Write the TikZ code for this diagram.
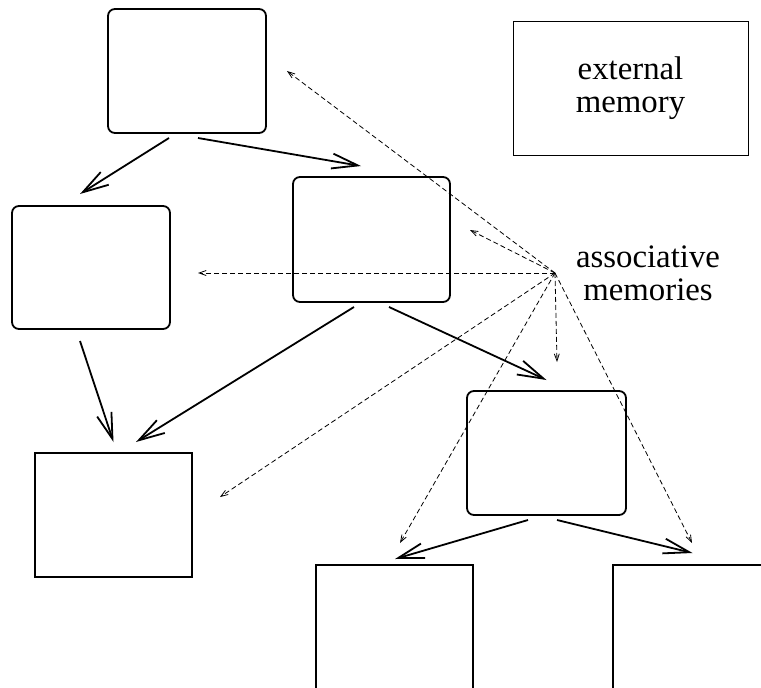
\documentclass[tikz,border=0pt]{standalone}
\usepackage{fontspec}
\setmainfont{Liberation Serif}
\newfontfamily\labelfont{Liberation Serif}
\usetikzlibrary{arrows.meta,calc}
\begin{document}
\begin{tikzpicture}[x=1pt,y=-1pt,
  memrounded/.style={draw,line width=1.8pt,rounded corners=7pt,inner sep=0pt,outer sep=0pt},
  memsquare/.style={draw,line width=1.8pt,inner sep=0pt,outer sep=0pt},
  flow/.style={line width=1.8pt,-{Straight Barb[length=26pt,width=15pt]}},
  assoc/.style={line width=0.8pt,dash pattern=on 5pt off 3pt,-{Straight Barb[length=7pt,width=5pt]}},
  labeltext/.style={font=\labelfont\fontsize{32.8}{33}\selectfont,align=center,inner sep=0pt}]
\useasboundingbox (0,0) rectangle (761,688);

% memory blocks
\node[memrounded,minimum width=158pt,minimum height=124pt] (top) at (187,71) {};
\node[memrounded,minimum width=158pt,minimum height=123pt] (lft) at (91,267.5) {};
\node[memrounded,minimum width=157pt,minimum height=125pt] (mid) at (371.5,239.5) {};
\node[memrounded,minimum width=159pt,minimum height=124pt] (rgt) at (546.5,453) {};
\node[memsquare,minimum width=157pt,minimum height=124pt] (bl) at (113.5,515) {};
\node[memsquare,minimum width=157pt,minimum height=124pt] (bm) at (394.5,627) {};
\node[memsquare,minimum width=157pt,minimum height=124pt] (br) at (691.5,627) {};

% external memory
\node[draw,line width=1pt,minimum width=235pt,minimum height=134pt,labeltext] (ext) at (630.5,88) {external\\memory};

% associative memories hub
\coordinate (hub) at (555,273);
\node[labeltext,anchor=base] (assoclbl) at (648,300) {associative\\memories};

% control flow between blocks
\draw[flow] ($(top.south)+(-18,5)$) -- ($(lft.north)+(-11,-12)$);
\draw[flow] ($(top.south)+(11,5)$) -- ($(mid.north)+(-10.5,-11)$);
\draw[flow] ($(lft.south)+(-11,12)$) -- ($(bl.north)+(0,-11)$);
\draw[flow] ($(mid.south)+(-17.5,5)$) -- ($(bl.north)+(22.5,-11)$);
\draw[flow] ($(mid.south)+(17.5,5)$) -- ($(rgt.north)+(0,-11)$);
\draw[flow] ($(rgt.south)+(-18.5,5)$) -- ($(bm.north)+(0.5,-6)$);
\draw[flow] ($(rgt.south)+(10.5,5)$) -- ($(br.north)+(1,-12)$);

% associative links
\draw[assoc] (hub) -- ($(top.east)+(21,0)$);
\draw[assoc] (hub) -- ($(mid.east)+(20,-9.5)$);
\draw[assoc] (hub) -- ($(lft.east)+(28,5.5)$);
\draw[assoc] (hub) -- ($(rgt.north)+(10.5,-29)$);
\draw[assoc] (hub) -- ($(bl.east)+(28,-18)$);
\draw[assoc] (hub) -- ($(bm.north)+(5.5,-22)$);
\draw[assoc] (hub) -- ($(br.north)+(0.5,-22)$);
\end{tikzpicture}
\end{document}
